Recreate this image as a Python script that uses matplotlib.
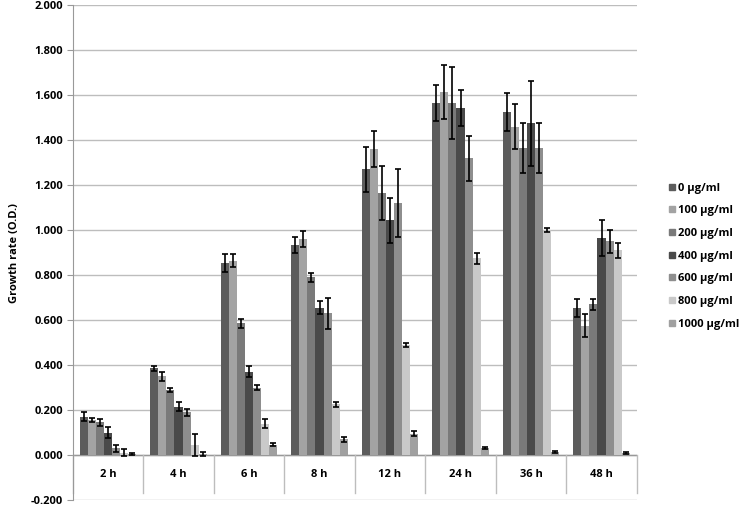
import numpy as np
import matplotlib.pyplot as plt
from matplotlib.lines import Line2D

plt.rcParams['font.family'] = ['Open Sans', 'DejaVu Sans']

times = ['2 h', '4 h', '6 h', '8 h', '12 h', '24 h', '36 h', '48 h']
doses = ['0 µg/ml', '100 µg/ml', '200 µg/ml', '400 µg/ml', '600 µg/ml', '800 µg/ml', '1000 µg/ml']

# growth values per dose, one entry per time point
val_0 = [0.170, 0.385, 0.855, 0.935, 1.270, 1.565, 1.525, 0.655]
val_100 = [0.155, 0.350, 0.865, 0.960, 1.360, 1.615, 1.460, 0.575]
val_200 = [0.145, 0.290, 0.585, 0.790, 1.165, 1.565, 1.365, 0.670]
val_400 = [0.100, 0.215, 0.370, 0.655, 1.045, 1.545, 1.475, 0.965]
val_600 = [0.030, 0.190, 0.300, 0.630, 1.120, 1.320, 1.365, 0.950]
val_800 = [0.010, 0.045, 0.140, 0.225, 0.490, 0.875, 1.000, 0.910]
val_1000 = [0.005, 0.005, 0.045, 0.070, 0.095, 0.030, 0.012, 0.010]

err_0 = [0.020, 0.010, 0.040, 0.035, 0.100, 0.080, 0.085, 0.040]
err_100 = [0.010, 0.020, 0.030, 0.035, 0.080, 0.120, 0.100, 0.050]
err_200 = [0.015, 0.010, 0.020, 0.020, 0.120, 0.160, 0.110, 0.025]
err_400 = [0.025, 0.020, 0.025, 0.030, 0.100, 0.080, 0.190, 0.080]
err_600 = [0.015, 0.015, 0.010, 0.070, 0.150, 0.100, 0.110, 0.050]
err_800 = [0.015, 0.050, 0.020, 0.010, 0.010, 0.025, 0.010, 0.035]
err_1000 = [0.005, 0.010, 0.007, 0.010, 0.010, 0.005, 0.005, 0.005]

values = [val_0, val_100, val_200, val_400, val_600, val_800, val_1000]
errors = [err_0, err_100, err_200, err_400, err_600, err_800, err_1000]
colors = ['#5c5c5c', '#a3a3a3', '#7a7a7a', '#4a4a4a', '#8e8e8e', '#c9c9c9', '#a0a0a0']

fig = plt.figure(figsize=(7.5, 5.08), dpi=100)
ax = fig.add_axes([0.097, 0.0157, 0.752, 0.974])

x = np.arange(len(times))
width = 0.8 / len(doses)
for i in range(len(doses)):
    pos = x - 0.4 + width * (i + 0.5)
    ax.bar(pos, values[i], width, color=colors[i], zorder=2)
    ax.errorbar(pos, values[i], yerr=errors[i], fmt='none', ecolor='black',
                elinewidth=1.2, capsize=2.5, capthick=1.2, zorder=3)

ax.set_xlim(-0.5, len(times) - 0.5)
ax.set_ylim(-0.2, 2.0)
ticks = np.arange(-0.2, 2.01, 0.2)
ax.set_yticks(ticks)
ax.set_yticklabels(['%.3f' % v for v in ticks], fontsize=8, fontweight='bold')
ax.yaxis.grid(True, color='#bdbdbd', linewidth=1, zorder=0)
ax.set_axisbelow(True)
ax.tick_params(axis='y', length=4, color='#999999', pad=3)
ax.set_xticks([])
for s in ['top', 'right', 'bottom']:
    ax.spines[s].set_visible(False)
ax.spines['left'].set_color('#999999')
ax.axhline(0, color='#999999', linewidth=1, zorder=1)

# category labels under the zero line, separated like a table
for k in range(len(times) + 1):
    ax.plot([k - 0.5, k - 0.5], [0, -0.17], color='#bdbdbd', linewidth=1, clip_on=False)
for k, t in enumerate(times):
    ax.text(k, -0.085, t, ha='center', va='center', fontsize=8, fontweight='bold')

ax.set_ylabel('Growth rate (O.D.)', fontsize=8, fontweight='bold', labelpad=8)

handles = [Line2D([], [], marker='s', linestyle='none', markersize=5,
                  markerfacecolor=c, markeredgecolor=c) for c in colors]
fig.legend(handles, doses, loc='upper left', bbox_to_anchor=(0.875, 0.66),
           frameon=False, prop={'weight': 'bold', 'size': 8},
           handletextpad=0.1, labelspacing=1.05, handlelength=1.0)

fig.savefig('out.png', dpi=100)
